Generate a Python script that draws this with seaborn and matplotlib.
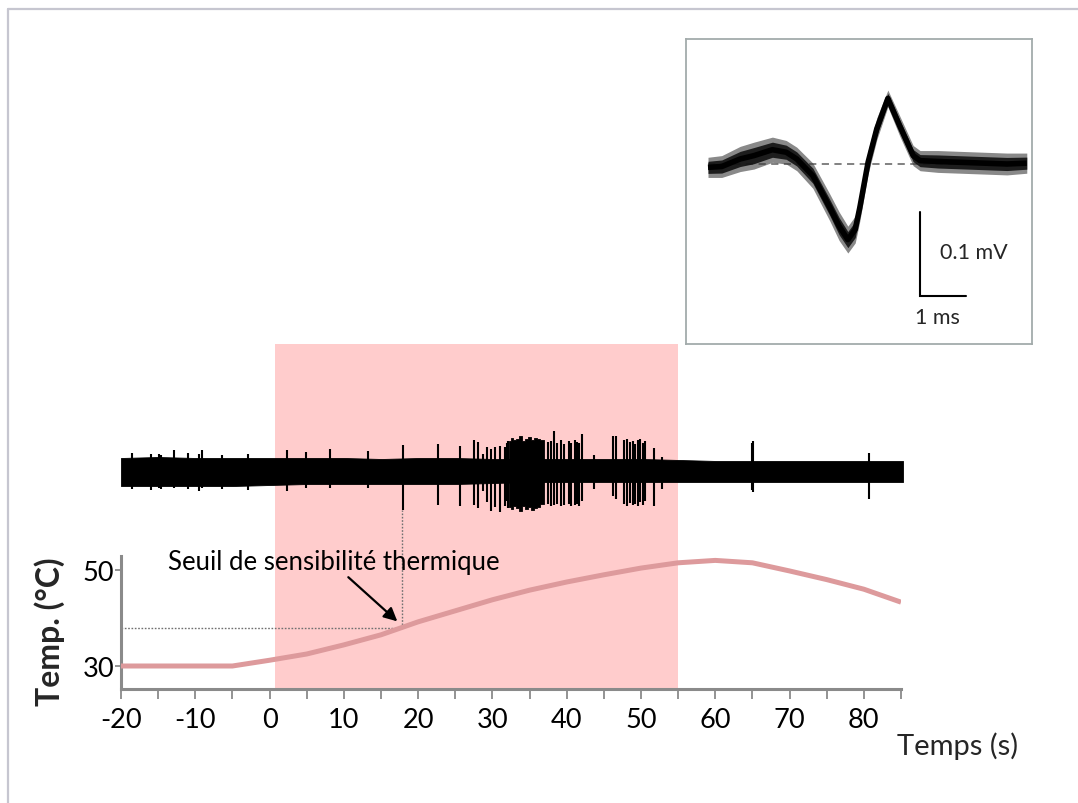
import matplotlib
matplotlib.use("Agg")
import matplotlib.pyplot as plt
from matplotlib.lines import Line2D
import numpy as np
import pandas as pd
import seaborn as sns

# ---------------- data ----------------
# temperature ramp (s, °C)
time_s = [-20, -15, -10, -5, 0, 5, 10, 15, 20, 25, 30, 35, 40, 45, 50, 55, 60, 65, 70, 75, 80, 85]
temp_c = [30, 30, 30, 30, 31.2, 32.5, 34.4, 36.5, 39.2, 41.5, 43.8, 45.8, 47.5, 49.0, 50.4, 51.5,
          52.0, 51.5, 49.8, 48.0, 46.0, 43.3]

stim_start, stim_end = 0.75, 55.0
threshold_time, threshold_temp = 17.8, 38.0

# extracellular recording: noise envelope (arbitrary units)
noise_t = [-20, -15, -10, -5, 0, 5, 10, 15, 20, 25, 30, 35, 40, 45, 50, 55, 60, 65, 70, 75, 80, 85]
noise_up = [13, 14, 13, 13, 13, 13, 13, 12, 13, 13, 12, 12, 12, 12, 12, 11, 10, 10, 10, 10, 10, 10]
noise_lo = [-15, -15, -15, -15, -14, -13, -13, -13, -13, -13, -12, -11, -11, -11, -11, -11, -11, -11,
            -11, -11, -11, -11]

# dense burst (solid) envelope
burst_t = [32.1, 32.5, 32.9, 33.3, 33.7, 34.1, 34.5, 34.9, 35.3, 35.7, 36.1, 36.5, 36.8]
burst_up = [30, 33, 31, 32, 35, 30, 32, 34, 31, 33, 32, 31, 31]
burst_lo = [-36, -38, -35, -37, -40, -35, -38, -36, -39, -37, -36, -33, -33]

# individual spikes (time, upward peak, downward peak)
spike_t = [-18.5, -16.0, -14.9, -14.6, -12.9, -11.0, -9.5, -9.1, -6.4, -3.0, 2.3, 4.8, 8.0, 13.2,
           17.8, 22.5, 25.5, 27.4, 27.9, 28.6, 29.1, 29.7, 30.2, 30.9, 31.5, 31.8, 32.0,
           37.4, 37.7, 38.2, 38.6, 39.1, 39.5, 40.1, 40.4, 40.9, 41.2, 41.5, 41.9, 43.5,
           46.1, 46.4,
           47.6, 48.0, 48.3, 48.7, 49.0, 49.4, 49.7, 50.1, 50.4,
           51.6, 52.6, 64.7, 64.9, 80.4]
spike_up = [18, 17, 17, 16, 21, 18, 17, 21, 16, 17, 21, 19, 22, 20,
            26, 27, 25, 31, 29, 17, 24, 22, 24, 25, 24, 28, 30,
            29, 30, 40, 28, 31, 27, 30, 28, 31, 29, 28, 37, 16,
            35, 35,
            31, 32, 29, 30, 27, 31, 32, 28, 30,
            23, 14, 28, 30, 18]
spike_lo = [-18, -19, -17, -18, -17, -18, -20, -17, -18, -19, -20, -17, -17, -17,
            -39, -34, -35, -34, -37, -20, -31, -40, -36, -41, -35, -30, -37,
            -33, -35, -34, -33, -35, -34, -33, -35, -34, -33, -35, -30, -18,
            -25, -28,
            -33, -35, -32, -34, -33, -35, -31, -34, -30,
            -35, -18, -19, -21, -28]

# inset: average spike waveform (ms, mV) with spread of the superimposed traces
wave_ms = [0.0, 0.3, 0.7, 1.0, 1.4, 1.7, 1.93, 2.28, 2.65, 2.85, 3.04, 3.2, 3.3, 3.48, 3.67,
           3.91, 4.17, 4.46, 4.61, 5.0, 5.5, 6.0, 6.5, 6.93]
wave_mv = [-0.004, -0.003, 0.006, 0.010, 0.017, 0.014, 0.006, -0.014, -0.052, -0.074, -0.090,
           -0.078, -0.052, 0.002, 0.042, 0.078, 0.045, 0.010, 0.004, 0.003, 0.002, 0.001, 0.000, 0.001]
wave_spread = [0.012, 0.013, 0.015, 0.016, 0.015, 0.014, 0.014, 0.015, 0.016, 0.017, 0.016,
               0.016, 0.016, 0.014, 0.013, 0.010, 0.012, 0.012, 0.012, 0.013, 0.013, 0.013, 0.013, 0.012]

x_major = [-20, -10, 0, 10, 20, 30, 40, 50, 60, 70, 80]
x_minor = [-15, -5, 5, 15, 25, 35, 45, 55, 65, 75, 85]
y_ticks = [30, 50]

# ---------------- style ----------------
sns.set_theme(style="white")
plt.rcParams['font.family'] = ['Lato', 'DejaVu Sans']
plt.rcParams['axes.unicode_minus'] = False

W, H = 1078, 804
fig = plt.figure(figsize=(W / 100, H / 100), dpi=100)
fig.patch.set_facecolor("white")

def fx(px):
    return px / W

def fy(py):
    return 1 - py / H

grey_axis = "#8a8a8a"
pink = "#ffcccc"
curve_col = "#dd9a9c"

# figure frame (top & left only)
fig.add_artist(Line2D([fx(8), 1.0], [fy(10), fy(10)], color="#c6c6d0", lw=1.6, transform=fig.transFigure))
fig.add_artist(Line2D([fx(8), fx(8)], [fy(10), 0.0], color="#c6c6d0", lw=1.6, transform=fig.transFigure))

# ---------------- main temperature axes ----------------
ax = fig.add_axes([fx(121), fy(690), fx(901) - fx(121), fy(345) - fy(690)])
ax.set_facecolor("none")
ymin_t = 30 - (690 - 667) / 4.8
ymax_t = 30 + (667 - 345) / 4.8
ax.set_xlim(-20, 85)
ax.set_ylim(ymin_t, ymax_t)

ax.axvspan(stim_start, stim_end, color=pink, lw=0, zorder=0)

df_t = pd.DataFrame({"t": time_s, "T": temp_c})
sns.lineplot(data=df_t, x="t", y="T", ax=ax, color=curve_col, lw=3.6, zorder=3,
             solid_capstyle="butt")

# threshold guides
ax.plot([-20, threshold_time], [threshold_temp, threshold_temp], color="#707070", lw=1.0,
        ls=(0, (1.2, 1.2)), zorder=2)
ax.plot([threshold_time, threshold_time], [threshold_temp, 62.5], color="#707070", lw=1.0,
        ls=(0, (1.2, 1.2)), zorder=2)

ax.text(8.6, 51.7, "Seuil de sensibilité thermique", fontsize=18.5, ha="center", va="center",
        color="black", zorder=5)
ax.annotate("", xy=(17.2, 39.3), xytext=(10.6, 48.5),
            arrowprops=dict(arrowstyle="-|>", color="black", lw=1.6, mutation_scale=20,
                            shrinkA=0, shrinkB=0), zorder=5)

for s in ["top", "right"]:
    ax.spines[s].set_visible(False)
ax.spines["left"].set_bounds(ymin_t, 30 + (667 - 557) / 4.8)
for s in ["left", "bottom"]:
    ax.spines[s].set_color(grey_axis)
    ax.spines[s].set_linewidth(2.2)

ax.set_xticks(x_major)
ax.set_xticklabels([str(v) for v in x_major])
ax.set_xticks(x_minor, minor=True)
ax.set_yticks(y_ticks)
ax.set_yticklabels([str(v) for v in y_ticks])
ax.tick_params(axis="x", which="both", direction="out", length=7, width=1.3, color=grey_axis,
               labelsize=19.5, pad=6, labelcolor="black", bottom=True)
ax.tick_params(axis="y", which="both", direction="out", length=4, width=1.3, color=grey_axis,
               labelsize=19.5, pad=1, labelcolor="black", left=True)
ax.set_xlabel("")
ax.set_ylabel("")

fig.text(fx(958), fy(746), "Temps (s)", fontsize=21, ha="center", va="center")
fig.text(fx(50), fy(632), "Temp. (°C)", fontsize=23, fontweight="bold", rotation=90,
         ha="center", va="center")

# ---------------- recording trace axes ----------------
axr = fig.add_axes([fx(121), fy(525), fx(903) - fx(121), fy(425) - fy(525)], sharex=ax)
axr.set_facecolor("none")
axr.set_ylim(-53, 47)
axr.fill_between(noise_t, noise_lo, noise_up, color="black", lw=0.6, edgecolor="black")
axr.fill_between(burst_t, burst_lo, burst_up, step="mid", color="black", lw=0.6, edgecolor="black")
axr.vlines(spike_t, spike_lo, spike_up, color="black", lw=1.5)
axr.axis("off")
ax.set_xlim(-20, 85)

# ---------------- inset: spike waveform ----------------
axi = fig.add_axes([fx(686), fy(345), fx(1032) - fx(686), fy(40) - fy(345)])
axi.set_xlim(-22 / 46, (1032 - 708) / 46)
axi.set_ylim(-(345 - 165) / 840, (165 - 40) / 840)
axi.set_xticks([])
axi.set_yticks([])
for s in axi.spines.values():
    s.set_color("#a3abab")
    s.set_linewidth(1.3)
    s.set_visible(True)

axi.plot([0, 6.93], [0, 0], color="#777777", lw=1.3, ls=(0, (4, 3)), zorder=1)
wm = np.array(wave_mv)
ws = np.array(wave_spread)
axi.fill_between(wave_ms, wm - ws, wm + ws, color="#3a3a3a", alpha=0.6, lw=0, zorder=2)
axi.fill_between(wave_ms, wm - ws * 0.6, wm + ws * 0.6, color="#111111", alpha=0.9, lw=0, zorder=3)
df_w = pd.DataFrame({"ms": wave_ms, "mV": wave_mv})
sns.lineplot(data=df_w, x="ms", y="mV", ax=axi, color="black", lw=4.0, zorder=4,
             solid_capstyle="butt", solid_joinstyle="round")
axi.set_xlabel("")
axi.set_ylabel("")

# scale bars
sb_x = (920 - 708) / 46
sb_y0 = -(297 - 165) / 840
axi.plot([sb_x, sb_x, sb_x + 1.0], [sb_y0 + 0.1, sb_y0, sb_y0], color="black", lw=1.5,
         solid_joinstyle="miter")
axi.text((940 - 708) / 46, -(253 - 165) / 840, "0.1 mV", fontsize=15.5, ha="left", va="center")
axi.text((937 - 708) / 46, -(318 - 165) / 840, "1 ms", fontsize=15.5, ha="center", va="center")

fig.savefig("out.png", dpi=100, facecolor="white")
